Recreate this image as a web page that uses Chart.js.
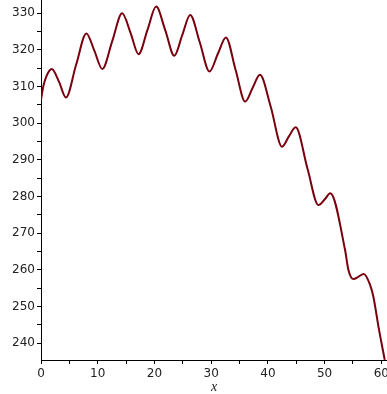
<!DOCTYPE html>
<html>
<head>
<meta charset="utf-8">
<script src="https://cdn.jsdelivr.net/npm/chart.js@4.4.1/dist/chart.umd.min.js"></script>
<style>
  html, body { margin: 0; padding: 0; background: #fff; }
  #wrap { width: 387px; height: 394px; position: relative; }
</style>
</head>
<body>
<div id="wrap"><canvas id="c"></canvas></div>
<script>
// values
var xValues = [0, 0.4, 1.0, 1.9, 3.2, 4.4, 6.2, 8.0, 9.4, 10.8, 12.6, 14.3, 15.8, 17.2, 18.8, 20.3,
               21.9, 23.5, 24.9, 26.3, 28.0, 29.7, 31.2, 32.6, 34.3, 36.0, 37.3, 38.6, 40.5, 42.5,
               43.7, 44.9, 47.0, 48.9, 50.0, 51.0, 53.6, 54.2, 55.1, 56.0, 56.9, 58.0, 58.6, 59.5, 60.6];
var yValues = [306.4, 310.0, 313.0, 314.8, 311.2, 307.0, 316.0, 324.5, 319.8, 314.8, 322.6, 330.0, 324.6, 318.8, 325.6, 331.8,
               325.4, 318.4, 324.0, 329.5, 322.0, 314.1, 319.0, 323.4, 314.6, 305.9, 309.6, 313.2, 304.5, 293.6,
               296.4, 298.9, 287.5, 277.7, 279.2, 280.9, 265.5, 260.0, 257.5, 258.2, 258.9, 256.0, 252.7, 244.5, 235.5];
var xTicks = [0, 5, 10, 15, 20, 25, 30, 35, 40, 45, 50, 55, 60];
var yTicks = [240, 245, 250, 255, 260, 265, 270, 275, 280, 285, 290, 295, 300, 305, 310, 315, 320, 325, 330];

var points = xValues.map(function(x, i) { return { x: x, y: yValues[i] }; });

var tickFont = { family: 'DejaVu Sans', size: 12 };

new Chart(document.getElementById('c'), {
    type: 'line',
    data: {
        datasets: [{
            data: points,
            borderColor: '#78000E',
            borderWidth: 2,
            pointRadius: 0,
            cubicInterpolationMode: 'monotone',
            fill: false
        }]
    },
    options: {
        responsive: true,
        maintainAspectRatio: false,
        animation: false,
        layout: { padding: 0 },
        plugins: {
            legend: { display: false },
            tooltip: { enabled: false }
        },
        scales: {
            x: {
                type: 'linear',
                min: 0,
                max: 61,
                afterBuildTicks: function(scale) {
                    scale.ticks = xTicks.map(function(v) { return { value: v }; });
                },
                afterFit: function(scale) {
                    scale.height = 34;
                    scale.paddingLeft = 0;
                    scale.paddingRight = 0;
                },
                grid: { drawOnChartArea: false, tickLength: 4, tickColor: '#000' },
                border: { color: '#000', width: 1 },
                ticks: {
                    autoSkip: false,
                    maxRotation: 0,
                    padding: 3,
                    color: '#222',
                    font: tickFont,
                    callback: function(v) { return v % 10 === 0 ? String(v) : ''; }
                },
                title: {
                    display: true,
                    text: 'x',
                    color: '#222',
                    padding: 0,
                    font: { family: 'Liberation Serif', size: 14, style: 'italic', lineHeight: 1 }
                }
            },
            y: {
                min: 235.45,
                max: 333.6,
                afterBuildTicks: function(scale) {
                    scale.ticks = yTicks.map(function(v) { return { value: v }; });
                },
                afterFit: function(scale) {
                    scale.width = 41;
                    scale.paddingTop = 0;
                    scale.paddingBottom = 0;
                },
                grid: { drawOnChartArea: false, tickLength: 4, tickColor: '#000' },
                border: { color: '#000', width: 1 },
                ticks: {
                    autoSkip: false,
                    padding: 2,
                    color: '#222',
                    font: tickFont,
                    callback: function(v) { return v % 10 === 0 ? String(v) : ''; }
                }
            }
        }
    }
});
</script>
</body>
</html>
